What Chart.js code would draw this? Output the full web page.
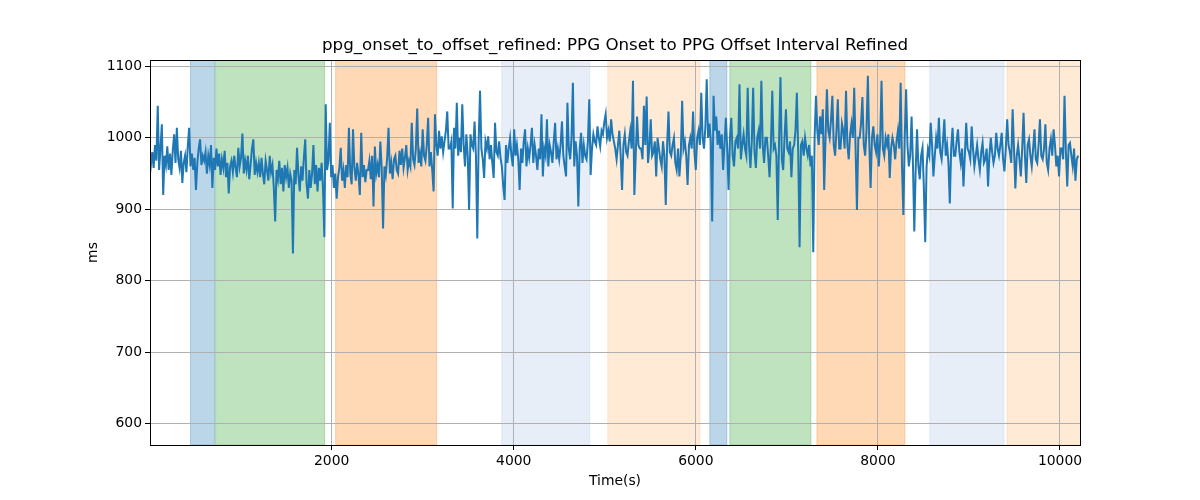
<!DOCTYPE html>
<html>
<head>
<meta charset="utf-8">
<script src="https://cdn.jsdelivr.net/npm/chart.js@4"></script>
<style>
  html, body { margin: 0; padding: 0; background: #fff; }
  #wrap { width: 1200px; height: 500px; position: relative; }
</style>
</head>
<body>
<div id="wrap"><canvas id="chart"></canvas></div>
<script>
// Sample spacing of the interval series (seconds)
const timeStart = 0;
const timeStep = 15;

// PPG onset -> offset interval, ms, 20 samples per 300 s
const intervalMs = [
  975, 962, 980, 958, 990, 968, 1045, 955, 985, 1019, 920, 975, 962, 988, 955, 978, 948, 982, 1005, 965,
  1014, 970, 958, 982, 937, 965, 975, 952, 988, 1014, 960, 978, 955, 972, 927, 965, 985, 998, 962, 975,
  968, 980, 950, 975, 962, 990, 930, 972, 955, 985, 960, 978, 948, 970, 958, 982, 945, 965, 922, 960,
  968, 952, 975, 958, 945, 986, 960, 972, 1006, 950, 968, 955, 975, 942, 962, 985, 998, 948, 965, 952,
  965, 945, 972, 950, 935, 968, 955, 940, 975, 952, 962, 930, 883, 955, 942, 968, 935, 958, 925, 962,
  945, 958, 930, 950, 940, 838, 955, 935, 986, 948, 925, 960, 940, 972, 998, 935, 915, 955, 930, 950,
  990, 935, 962, 925, 958, 940, 965, 930, 861, 1047, 955, 968, 1021, 945, 962, 930, 950, 915, 945, 958,
  986, 940, 955, 930, 962, 945, 1014, 950, 935, 1012, 958, 940, 965, 948, 920, 1007, 945, 962, 938, 955,
  955, 968, 942, 975, 904, 988, 950, 962, 945, 995, 958, 873, 960, 948, 972, 1014, 950, 965, 942, 970,
  975, 955, 950, 982, 962, 985, 958, 972, 990, 955, 968, 960, 1021, 970, 962, 985, 1041, 965, 978, 960,
  1012, 975, 968, 990, 1028, 960, 980, 955, 925, 1033, 990, 975, 1010, 985, 1002, 980, 995, 1010, 1037, 985,
  985, 995, 901, 1014, 985, 1049, 975, 1000, 980, 1047, 990, 960, 1005, 975, 899, 1005, 990, 985, 1023, 975,
  859, 995, 1066, 985, 970, 944, 995, 985, 1002, 970, 990, 965, 944, 1021, 980, 975, 995, 972, 960, 932,
  913, 990, 965, 985, 1000, 975, 960, 1012, 975, 990, 970, 927, 985, 965, 995, 1012, 960, 985, 972, 990,
  1014, 965, 990, 975, 955, 985, 970, 1033, 946, 985, 975, 1026, 960, 990, 980, 965, 995, 1021, 970, 985,
  970, 990, 1023, 975, 960, 946, 1049, 985, 970, 1000, 1077, 960, 995, 975, 904, 985, 1007, 965, 990, 975,
  970, 995, 1054, 948, 985, 1005, 995, 990, 1016, 1000, 988, 1010, 1005, 1022, 1033, 1000, 1010, 995, 1026, 1005,
  995, 985, 970, 990, 1010, 975, 927, 990, 1005, 980, 975, 995, 1010, 985, 1080, 920, 975, 1030, 990, 985,
  985, 970, 1045, 990, 1058, 965, 985, 1026, 975, 980, 995, 946, 1000, 985, 970, 960, 995, 975, 906, 990,
  1037, 980, 975, 990, 1000, 965, 955, 985, 946, 975, 1052, 985, 995, 975, 934, 990, 1000, 985, 1037, 980,
  955, 1000, 1010, 990, 1063, 1000, 985, 1015, 1082, 1000, 1020, 995, 883, 1059, 1010, 1030, 990, 1010, 985, 1005,
  955, 990, 1028, 985, 927, 1000, 1028, 975, 960, 995, 1000, 985, 1075, 970, 990, 1005, 985, 975, 1070, 990,
  958, 995, 1070, 980, 958, 1000, 1010, 985, 1080, 990, 965, 1000, 1000, 975, 945, 990, 1066, 985, 990, 975,
  885, 1000, 1085, 970, 955, 1000, 1040, 985, 980, 995, 945, 985, 990, 1010, 1063, 980, 847, 990, 995, 975,
  1000, 985, 975, 990, 960, 975, 840, 1000, 1059, 1010, 990, 1030, 1005, 1040, 927, 1000, 1068, 1010, 1000, 1025,
  1059, 990, 975, 1010, 1054, 985, 985, 1020, 1010, 985, 1066, 990, 970, 1005, 1020, 1000, 1070, 985, 899, 1000,
  1000, 1020, 1057, 990, 975, 1010, 1087, 995, 930, 1000, 1016, 990, 980, 1005, 960, 995, 1080, 985, 975, 1000,
  990, 1005, 944, 985, 1000, 990, 970, 995, 1010, 985, 1077, 960, 892, 1000, 1068, 990, 960, 975, 1030, 965,
  869, 955, 1012, 960, 942, 975, 986, 930, 854, 960, 984, 975, 1021, 990, 946, 975, 1000, 985, 1028, 980,
  970, 995, 1026, 975, 990, 965, 908, 985, 1014, 975, 975, 995, 1012, 980, 965, 985, 932, 975, 1021, 985,
  980, 970, 1016, 985, 960, 975, 990, 970, 955, 980, 993, 965, 970, 985, 932, 975, 1000, 980, 965, 975,
  1007, 985, 975, 990, 1007, 970, 953, 985, 1026, 990, 980, 965, 1040, 985, 929, 975, 990, 970, 946, 985,
  1035, 975, 937, 990, 998, 975, 960, 985, 1012, 970, 965, 990, 1026, 975, 970, 985, 1019, 965, 955, 985,
  998, 975, 1012, 990, 960, 975, 946, 985, 985, 970, 1059, 980, 932, 990, 993, 975, 960, 985, 940, 970,
  975
];

// Shaded segments (seconds)
const spanStart = [450, 725, 2044, 3868, 5033, 6154, 6374, 7330, 8571, 9418];
const spanEnd   = [714, 1923, 3154, 4835, 6044, 6341, 7264, 8297, 9385, 10260];
const spanKind  = [0, 1, 2, 3, 4, 0, 1, 2, 3, 4];

const xTicks = [2000, 4000, 6000, 8000, 10000];
const yTicks = [600, 700, 800, 900, 1000, 1100];

const chartTitle = 'ppg_onset_to_offset_refined: PPG Onset to PPG Offset Interval Refined';

// span fill colours by kind
const kindColors = [
  'rgba(31,119,180,0.3)',
  'rgba(44,160,44,0.3)',
  'rgba(255,127,14,0.3)',
  'rgba(174,199,232,0.3)',
  'rgba(255,187,120,0.3)'
];

const points = intervalMs.map((v, i) => ({ x: timeStart + i * timeStep, y: v }));

const font = 'DejaVu Sans';

// background spans, drawn under the grid like axvspan
const spansPlugin = {
  id: 'spans',
  beforeDraw(chart) {
    const { ctx, chartArea } = chart;
    const xs = chart.scales.x;
    ctx.save();
    ctx.beginPath();
    ctx.rect(chartArea.left, chartArea.top, chartArea.right - chartArea.left, chartArea.bottom - chartArea.top);
    ctx.clip();
    spanStart.forEach((s, i) => {
      const x0 = xs.getPixelForValue(s);
      const x1 = xs.getPixelForValue(spanEnd[i]);
      ctx.fillStyle = kindColors[spanKind[i]];
      ctx.fillRect(x0, chartArea.top, x1 - x0, chartArea.bottom - chartArea.top);
      ctx.strokeStyle = kindColors[spanKind[i]];
      ctx.lineWidth = 1;
      ctx.strokeRect(x0, chartArea.top, x1 - x0, chartArea.bottom - chartArea.top);
    });
    ctx.restore();
  }
};

// box spines and title
const framePlugin = {
  id: 'frame',
  afterDatasetsDraw(chart) {
    const { ctx, chartArea } = chart;
    ctx.save();
    ctx.strokeStyle = '#000';
    ctx.lineWidth = 1;
    ctx.strokeRect(Math.round(chartArea.left) + 0.5, Math.round(chartArea.top) + 0.5,
      Math.round(chartArea.right - chartArea.left), Math.round(chartArea.bottom - chartArea.top));
    ctx.fillStyle = '#000';
    ctx.font = `16.7px "${font}"`;
    ctx.textAlign = 'center';
    ctx.textBaseline = 'middle';
    ctx.fillText(chartTitle, (chartArea.left + chartArea.right) / 2, 46);
    ctx.restore();
  }
};

new Chart(document.getElementById('chart'), {
  type: 'line',
  data: {
    datasets: [{
      data: points,
      borderColor: '#1f77b4',
      borderWidth: 2,
      pointRadius: 0,
      tension: 0,
      fill: false
    }]
  },
  options: {
    responsive: true,
    maintainAspectRatio: false,
    animation: false,
    events: [],
    layout: { padding: { left: 80, right: 120, top: 60, bottom: 0 } },
    plugins: {
      legend: { display: false },
      tooltip: { enabled: false }
    },
    scales: {
      x: {
        type: 'linear',
        min: 5,
        max: 10220,
        afterBuildTicks: (s) => { s.ticks = xTicks.map(v => ({ value: v })); },
        afterFit: (s) => { s.height = 55; },
        grid: { color: '#b0b0b0', lineWidth: 1, tickColor: '#000', tickLength: 5, drawTicks: true },
        border: { display: false },
        ticks: { color: '#000', font: { family: font, size: 13.9 }, padding: 3, maxRotation: 0, callback: (v) => String(v) },
        title: { display: true, text: 'Time(s)', color: '#000', font: { family: font, size: 13.9 }, padding: { top: 0, bottom: 10 } }
      },
      y: {
        min: 570,
        max: 1109,
        afterBuildTicks: (s) => { s.ticks = yTicks.map(v => ({ value: v })); },
        afterFit: (s) => { s.width = 70; },
        grid: { color: '#b0b0b0', lineWidth: 1, tickColor: '#000', tickLength: 5, drawTicks: true },
        border: { display: false },
        ticks: { color: '#000', font: { family: font, size: 13.9 }, padding: 3, callback: (v) => String(v) },
        title: { display: true, text: 'ms', color: '#000', font: { family: font, size: 13.9 }, padding: { top: 5, bottom: 0 } }
      }
    }
  },
  plugins: [spansPlugin, framePlugin]
});
</script>
</body>
</html>
